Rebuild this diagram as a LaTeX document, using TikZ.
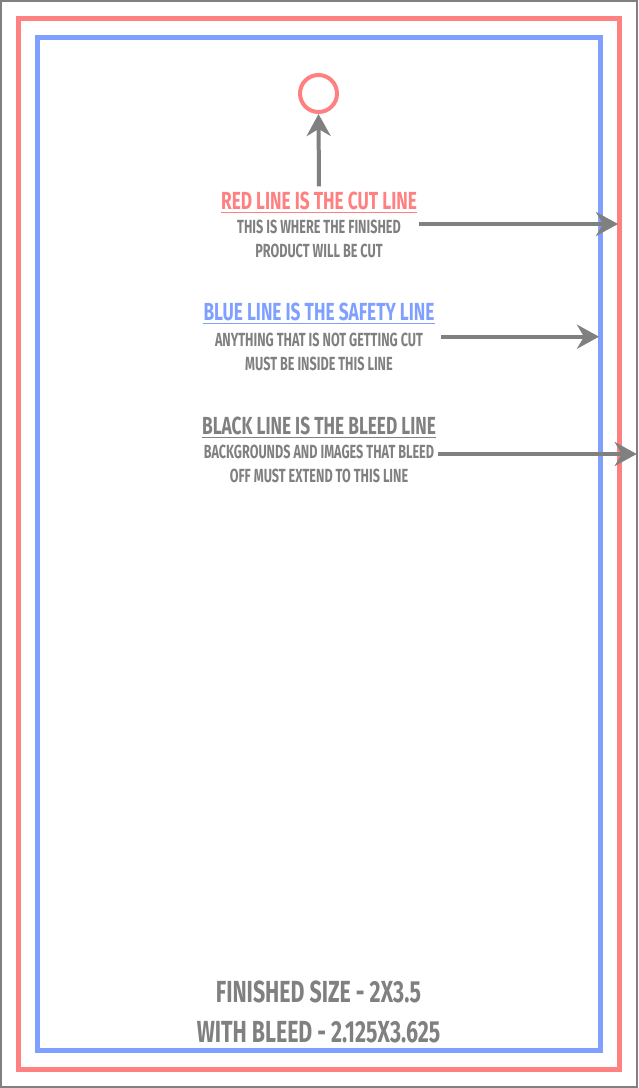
\documentclass[tikz,border=0pt]{standalone}
\usepackage{fontspec}
\usetikzlibrary{arrows.meta}
\newfontfamily\guidefont[FakeStretch=0.7]{Fira Sans}
\newfontfamily\notefont[FakeStretch=0.665]{Fira Sans}
\definecolor{cutred}{RGB}{255,128,128}
\definecolor{safeblue}{RGB}{128,160,255}
\definecolor{bleedgray}{RGB}{128,128,128}
\tikzset{
  pointer/.style={line width=4pt,draw=bleedgray,-{Stealth[length=22pt,width=24pt,inset=7pt]}},
  heading/.style={inner sep=0pt,anchor=base,font=\guidefont\bfseries\fontsize{24.7}{26}\selectfont},
  note/.style={inner sep=0pt,anchor=base,text=bleedgray,font=\notefont\bfseries\fontsize{19}{24}\selectfont},
  sizenote/.style={inner sep=0pt,anchor=base,text=bleedgray,font=\guidefont\bfseries\fontsize{30.5}{32}\selectfont},
}
\begin{document}
\begin{tikzpicture}[x=1pt,y=-1pt]
\useasboundingbox (0,0) rectangle (638,1088);
% the three lines
\draw[bleedgray,line width=2pt] (1,1) rectangle (637,1087);
\draw[cutred,line width=5pt] (18.5,18.5) rectangle (619,1069);
\draw[safeblue,line width=5pt] (37.5,37.5) rectangle (600.5,1050);

% cut line
\node[circle,draw=cutred,line width=4pt,minimum size=37pt,inner sep=0pt] (ring) at (318.5,93.5) {};
\node[heading,text=cutred] (cuttitle) at (319,209) {RED LINE IS THE CUT LINE};
\node[note] (cutA) at (319,233.3) {THIS IS WHERE THE FINISHED};
\node[note] (cutB) at (319,257) {PRODUCT WILL BE CUT};
\draw[cutred,line width=1pt] ([yshift=-3.5pt]cuttitle.base west) -- ([yshift=-3.5pt]cuttitle.base east);
\draw[pointer] ([yshift=5pt]cuttitle.north) -- (ring.south);
\coordinate (cuttip) at (618,224);
\draw[pointer] (cutA.east |- cuttip) ++(18,0) -- (cuttip);

% safety line
\node[heading,text=safeblue] (safetitle) at (319,320.7) {BLUE LINE IS THE SAFETY LINE};
\node[note] (safeA) at (319,346) {ANYTHING THAT IS NOT GETTING CUT};
\node[note] (safeB) at (319,370) {MUST BE INSIDE THIS LINE};
\draw[safeblue,line width=1pt] ([yshift=-3pt]safetitle.base west) -- ([yshift=-3pt]safetitle.base east);
\coordinate (safetip) at (599,336.7);
\draw[pointer] (safeA.east |- safetip) ++(18,0) -- (safetip);

% bleed line
\node[heading,text=bleedgray] (bleedtitle) at (319,434) {BLACK LINE IS THE BLEED LINE};
\node[note] (bleedA) at (319,458) {BACKGROUNDS AND IMAGES THAT BLEED};
\node[note] (bleedB) at (319,482.7) {OFF MUST EXTEND TO THIS LINE};
\draw[bleedgray,line width=1pt] ([yshift=-3pt]bleedtitle.base west) -- ([yshift=-3pt]bleedtitle.base east);
\coordinate (bleedtip) at (636.7,454);
\draw[pointer] (bleedA.east |- bleedtip) ++(4,0) -- (bleedtip);

% sizes
\node[sizenote] (finsize) at (318.5,1002.7) {FINISHED SIZE - 2X3.5};
\node[sizenote] (bleedsize) at (318.5,1042.7) {WITH BLEED - 2.125X3.625};
\end{tikzpicture}
\end{document}
